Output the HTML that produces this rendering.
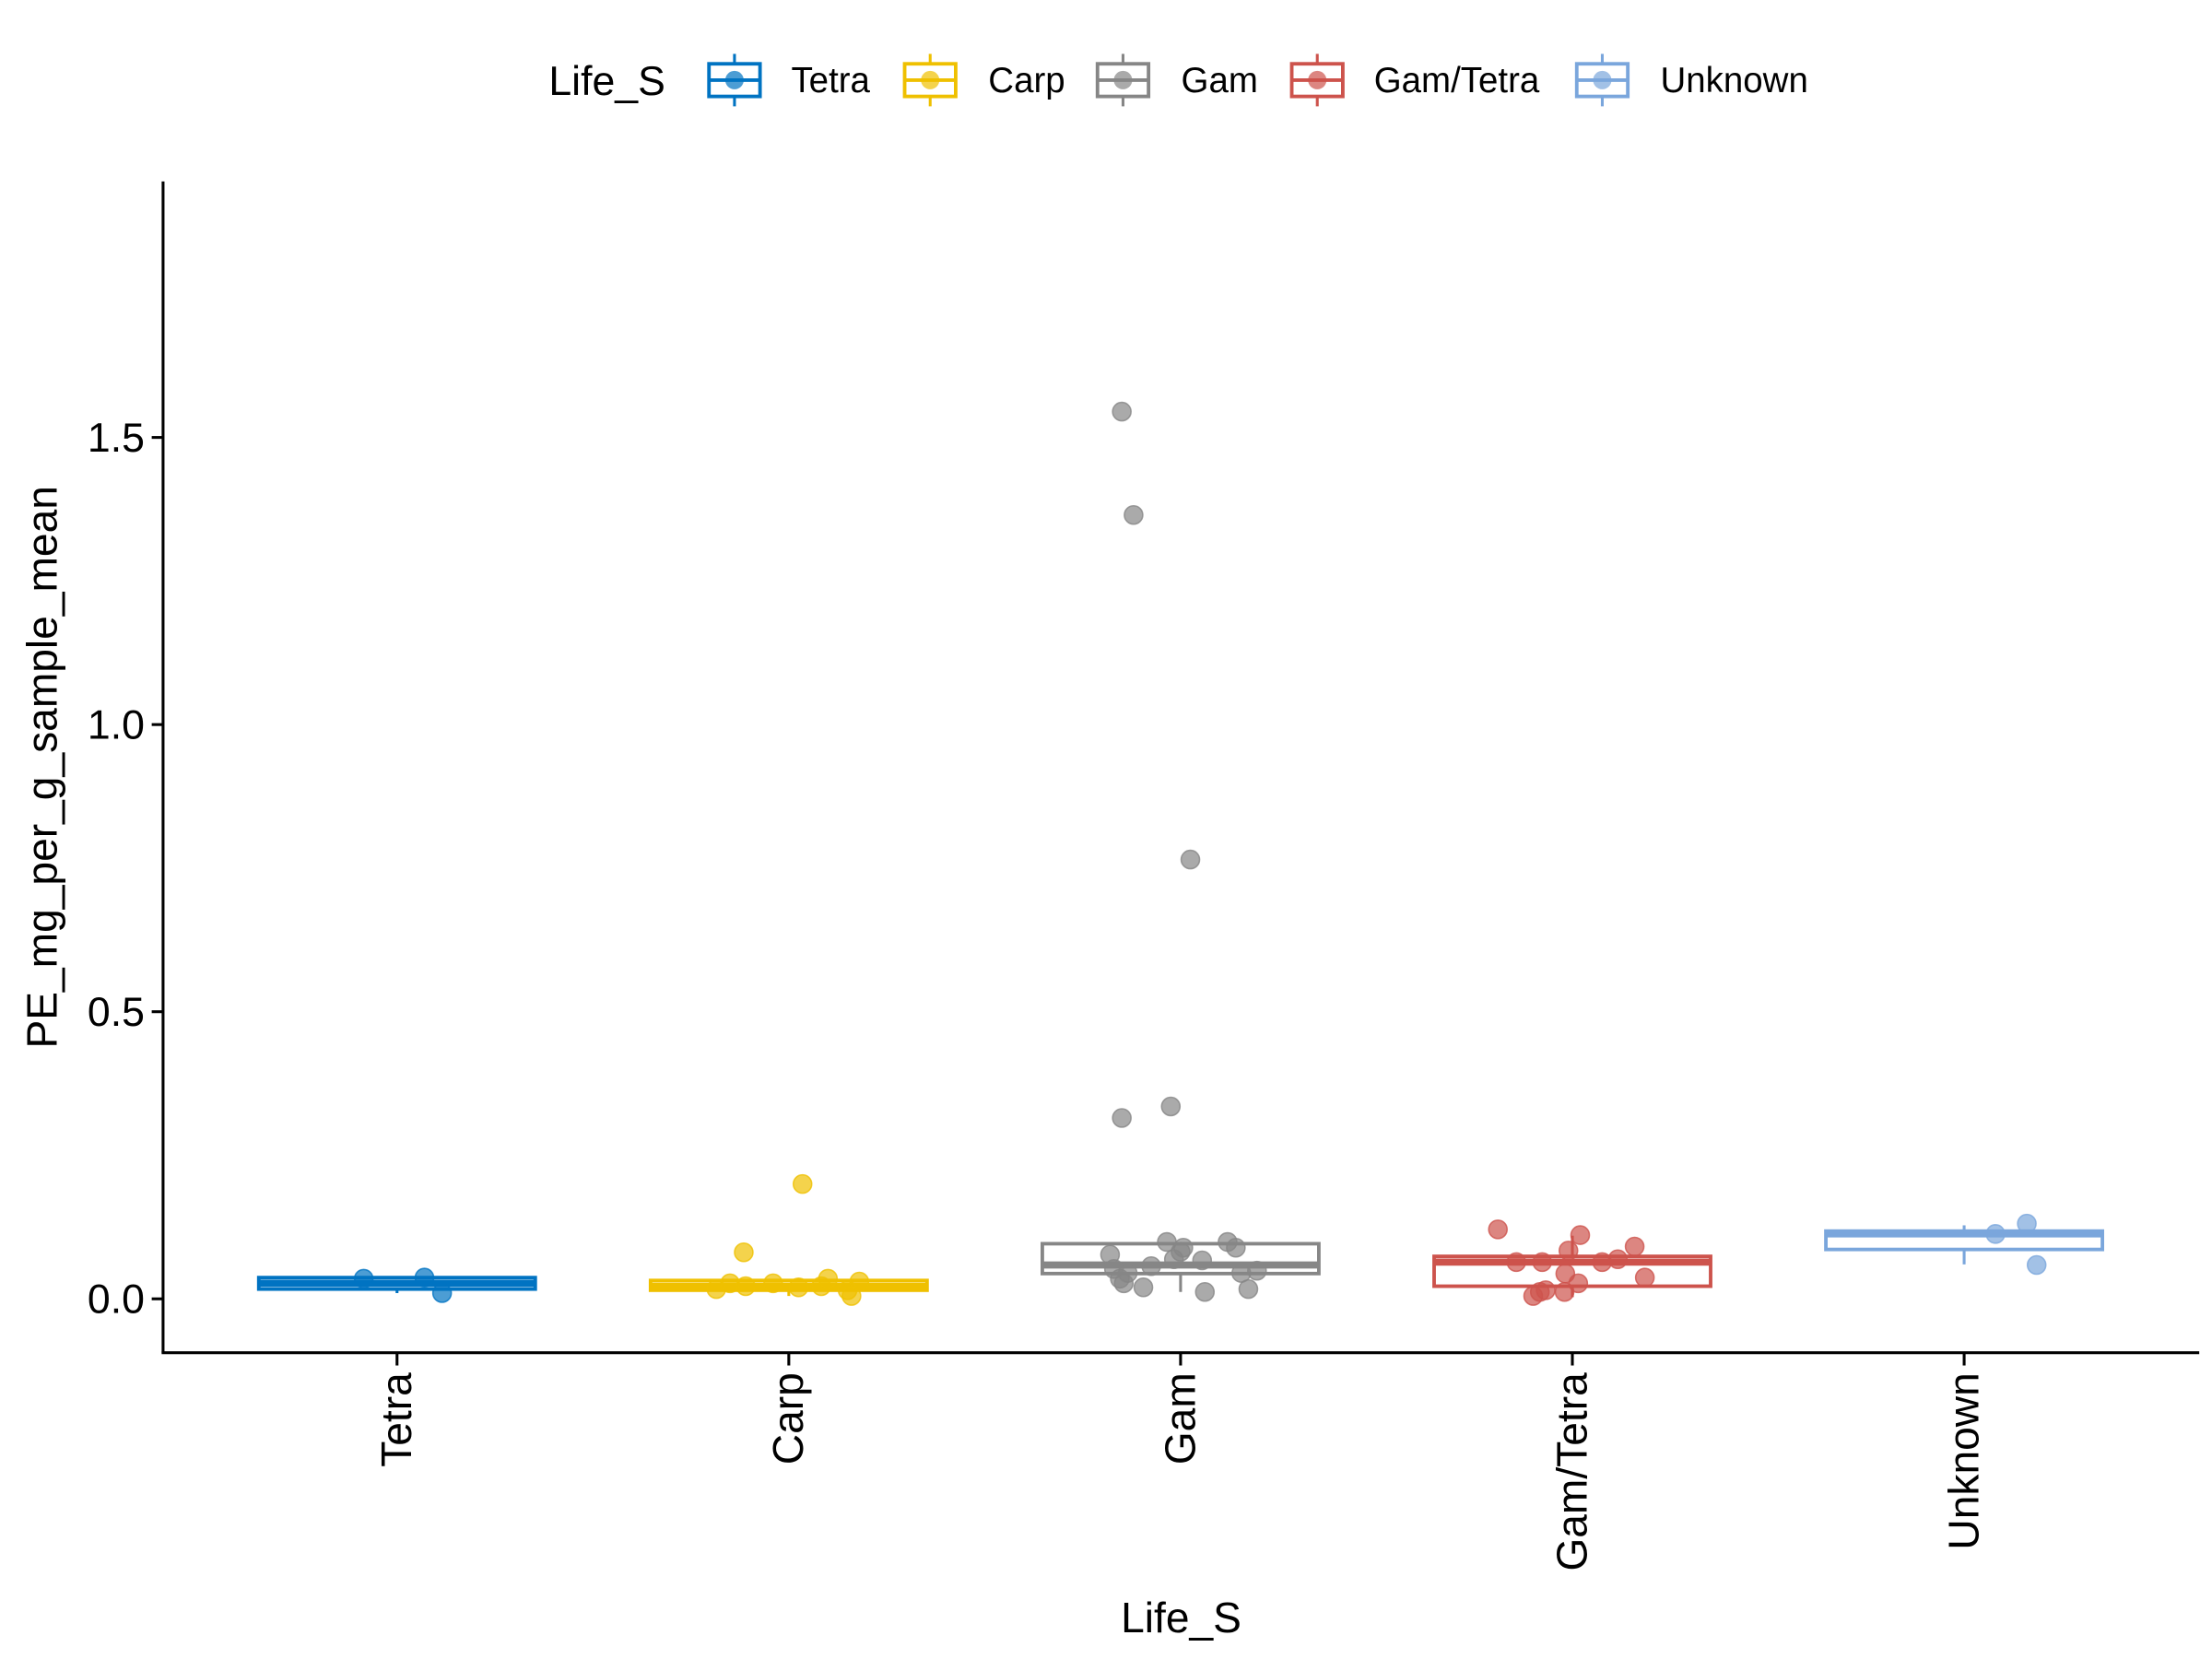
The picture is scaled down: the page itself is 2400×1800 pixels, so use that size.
<!DOCTYPE html>
<html><head><meta charset="utf-8">
<style>html,body{margin:0;padding:0;background:#fff}svg{display:block}text{font-family:"Liberation Sans",sans-serif}</style>
</head><body>
<svg id="chart" width="2400" height="1800" viewBox="0 0 1560 1170" xmlns="http://www.w3.org/2000/svg">
<rect width="1560" height="1170" fill="#fff"/>
<g id="legend">
<text x="387" y="67" font-size="29">Life_S</text>
</g>
<g id="plot"></g>
<line x1="115" y1="128" x2="115" y2="954" stroke="#000" stroke-width="2"/>
<line x1="114" y1="954" x2="1551" y2="954" stroke="#000" stroke-width="2"/>
<g id="axes"></g>
<text transform="translate(40,541) rotate(-90)" text-anchor="middle" font-size="30">PE_mg_per_g_sample_mean</text>
<text x="833" y="1151" text-anchor="middle" font-size="30">Life_S</text>
</svg>
<script>
const categories = ["Tetra","Carp","Gam","Gam/Tetra","Unknown"];
const colors = ["#0073C2","#EFC000","#868686","#CD534C","#7AA6DC"];
const q1 = [0.017,0.015,0.044,0.022,0.086];
const medians = [0.027,0.022,0.059,0.064,0.113];
const q3 = [0.037,0.032,0.096,0.074,0.118];
const whiskerLow = [0.01,0.005,0.012,0.003,0.06];
const whiskerHigh = [0.037,0.032,0.096,0.11,0.128];
const pointsY = [
 [0.035,0.037,0.01],
 [0.20,0.081,0.017,0.027,0.022,0.027,0.02,0.022,0.035,0.015,0.005,0.03],
 [1.545,1.365,0.765,0.335,0.315,0.077,0.052,0.035,0.027,0.045,0.02,0.057,0.099,0.069,0.082,0.089,0.067,0.012,0.099,0.089,0.045,0.017,0.049],
 [0.121,0.064,0.064,0.111,0.084,0.044,0.064,0.069,0.091,0.037,0.012,0.005,0.015,0.012,0.027],
 [0.113,0.131,0.059]
];
const pointsJitter = [
 [-0.085,0.07,0.115],
 [0.035,-0.115,-0.185,-0.15,-0.11,-0.04,0.025,0.083,0.10,0.15,0.16,0.18],
 [-0.15,-0.12,0.025,-0.025,-0.15,-0.18,-0.17,-0.155,-0.145,-0.135,-0.095,-0.075,-0.035,-0.017,0.0,0.007,0.055,0.062,0.12,0.141,0.155,0.173,0.195],
 [-0.19,-0.143,-0.077,0.02,-0.01,-0.018,0.076,0.116,0.159,0.185,-0.083,-0.1,-0.068,-0.02,0.015],
 [0.08,0.16,0.185]
];
const yTicks = [0,0.5,1.0,1.5];
const yTickLabels = ["0.0","0.5","1.0","1.5"];
const NS="http://www.w3.org/2000/svg";
const y = v => 916 - v*405;
const xc = i => 280 + i*276.3;
const bw = 195;
const plot=document.getElementById('plot'), axes=document.getElementById('axes'), legend=document.getElementById('legend');
function mk(tag,attrs,parent){const e=document.createElementNS(NS,tag);for(const k in attrs)e.setAttribute(k,attrs[k]);parent.appendChild(e);return e;}
categories.forEach((c,i)=>{
  const g=mk('g',{},plot);
  
  
  const col=colors[i], x=xc(i);
  const w1=mk('line',{x1:x,x2:x,y1:y(q3[i]),y2:y(whiskerHigh[i]),stroke:col,'stroke-width':2},g);
  
  
  const w2=mk('line',{x1:x,x2:x,y1:y(q1[i]),y2:y(whiskerLow[i]),stroke:col,'stroke-width':2},g);
  
  
  const r=mk('rect',{x:x-bw/2,y:y(q3[i]),width:bw,height:y(q1[i])-y(q3[i]),fill:'#fff',stroke:col,'stroke-width':2.5},g);
  
  
  const m=mk('line',{x1:x-bw/2,x2:x+bw/2,y1:y(medians[i]),y2:y(medians[i]),stroke:col,'stroke-width':5},g);
  
  
  pointsY[i].forEach((v,j)=>{
    const p=mk('circle',{cx:x+pointsJitter[i][j]*276.3,cy:y(v),r:6.5,fill:col,'fill-opacity':0.7,stroke:col,'stroke-opacity':0.8,'stroke-width':1},g);
    
    
  });
  const t=mk('line',{x1:x,x2:x,y1:954,y2:963,stroke:'#000','stroke-width':2},axes);
  
  
  const lb=mk('text',{transform:`translate(${x+10},968) rotate(-90)`,'text-anchor':'end','font-size':30},axes);
  lb.textContent=c;
  
  
  const kx=[518,656,792,929,1130][i], tx=[558,697,833,969,1171][i];
  const lg=mk('g',{},legend);
  
  
  mk('line',{x1:kx,x2:kx,y1:38,y2:75,stroke:col,'stroke-width':2},lg);
  mk('rect',{x:kx-18,y:45,width:36,height:23,fill:'#fff',stroke:col,'stroke-width':2.5},lg);
  mk('line',{x1:kx-18,x2:kx+18,y1:56.5,y2:56.5,stroke:col,'stroke-width':2.5},lg);
  mk('circle',{cx:kx,cy:56.5,r:6.5,fill:col,'fill-opacity':0.7},lg);
  const lt=mk('text',{x:tx,y:65,'font-size':25},lg);
  lt.textContent=c;
});
yTicks.forEach((v,i)=>{
  const t=mk('line',{x1:107,x2:115,y1:y(v),y2:y(v),stroke:'#000','stroke-width':2},axes);
  
  
  const l=mk('text',{x:102,y:y(v)+10,'text-anchor':'end','font-size':29},axes);
  l.textContent=yTickLabels[i];
  
  
});
</script>
</body></html>
